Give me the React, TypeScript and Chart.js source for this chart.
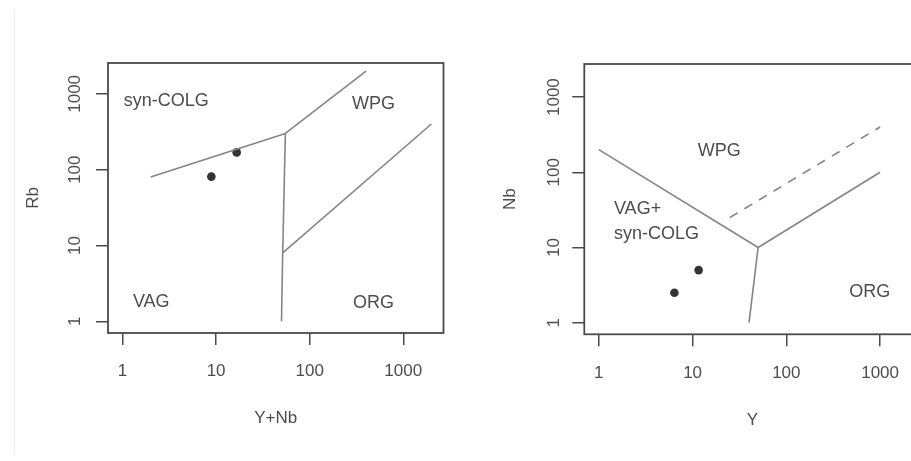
import React, { useEffect, useRef } from "react";
import { Chart, registerables } from "chart.js";

Chart.register(...registerables);

// ---------- data ----------
const tickValues = [1, 10, 100, 1000];

// samples
const sampleYplusNb = [8.9, 16.6];
const sampleRb = [81, 169];
const sampleY = [6.4, 11.6];
const sampleNb = [2.5, 5.0];

// Rb vs (Y+Nb) boundaries
const synColgVagX = [2, 55];
const synColgVagY = [80, 300];
const wpgSynColgX = [55, 400];
const wpgSynColgY = [300, 2000];
const vagOrgX = [55, 51.5, 50];
const vagOrgY = [300, 8, 1];
const wpgOrgX = [51.5, 2000];
const wpgOrgY = [8, 400];

// Nb vs Y boundaries
const vagWpgX = [1, 50];
const vagWpgY = [200, 10];
const wpgOrgNbX = [50, 1000];
const wpgOrgNbY = [10, 100];
const vagOrgNbX = [50, 40];
const vagOrgNbY = [10, 1];
const dashedX = [25, 1000];
const dashedY = [25, 400];

// field names and their anchors (data coordinates)
const leftFieldText = ["syn-COLG", "WPG", "VAG", "ORG"];
const leftFieldX = [2.93, 481, 2.03, 481];
const leftFieldY = [797, 728, 1.81, 1.76];
const rightFieldText = ["WPG", "VAG+", "syn-COLG", "ORG"];
const rightFieldX = [19.2, 1.45, 1.45, 777];
const rightFieldY = [191, 32, 15.1, 2.59];

// ---------- style ----------
const FONT = "'Liberation Sans', Arial, Helvetica, sans-serif";
const TEXT = "#4d4d4d";
const LINE = "#858585";
const FRAME = "#4a4a4a";
const POINT = "#333333";

type Seg = { x: number[]; y: number[]; dash?: number[] };
type Field = { text: string; x: number; y: number; align: CanvasTextAlign };

type PanelProps = {
  left: number;
  width: number;
  pad: { left: number; right: number; top: number; bottom: number };
  xLog: [number, number];
  yLog: [number, number];
  xTitle: string;
  yTitle: string;
  yTitlePad: number;
  yTickPad: number;
  segs: Seg[];
  px: number[];
  py: number[];
  fields: Field[];
};

const framePlugin = {
  id: "frameAndFields",
  afterDatasetsDraw(chart: any, _args: any, opts: any) {
    const { ctx, chartArea } = chart;
    const xs = chart.scales.x;
    const ys = chart.scales.y;
    ctx.save();
    ctx.strokeStyle = FRAME;
    ctx.lineWidth = 1.8;
    ctx.strokeRect(
      chartArea.left,
      chartArea.top,
      chartArea.right - chartArea.left,
      chartArea.bottom - chartArea.top
    );
    ctx.fillStyle = TEXT;
    ctx.font = `18px ${FONT}`;
    ctx.textBaseline = "middle";
    (opts.fields || []).forEach((f: Field) => {
      ctx.textAlign = f.align;
      ctx.fillText(f.text, xs.getPixelForValue(f.x), ys.getPixelForValue(f.y));
    });
    ctx.restore();
  },
};

function Panel(p: PanelProps) {
  const ref = useRef<HTMLCanvasElement | null>(null);
  useEffect(() => {
    if (!ref.current) return;
    const font = { family: FONT, size: 17 };
    const grid = {
      drawOnChartArea: false,
      drawTicks: true,
      tickLength: 12,
      color: FRAME,
      tickColor: FRAME,
      lineWidth: 1.5,
    };
    const setTicks = (scale: any) => {
      scale.ticks = tickValues.map((v) => ({ value: v }));
    };
    const datasets: any[] = p.segs.map((s) => ({
      data: s.x.map((x, i) => ({ x, y: s.y[i] })),
      showLine: true,
      borderColor: LINE,
      borderWidth: 1.6,
      borderDash: s.dash || [],
      pointRadius: 0,
      pointHoverRadius: 0,
      fill: false,
      tension: 0,
    }));
    datasets.push({
      data: p.px.map((x, i) => ({ x, y: p.py[i] })),
      showLine: false,
      pointRadius: 4.3,
      pointBackgroundColor: POINT,
      pointBorderColor: POINT,
      pointBorderWidth: 0,
    });
    const chart = new Chart(ref.current, {
      type: "scatter",
      data: { datasets },
      options: {
        animation: false,
        responsive: false,
        maintainAspectRatio: false,
        events: [],
        layout: { padding: p.pad },
        plugins: {
          legend: { display: false },
          tooltip: { enabled: false },
          frameAndFields: { fields: p.fields },
        } as any,
        scales: {
          x: {
            type: "logarithmic",
            min: Math.pow(10, p.xLog[0]),
            max: Math.pow(10, p.xLog[1]),
            afterBuildTicks: setTicks,
            afterFit: (s: any) => {
              s.height = 100;
            },
            grid,
            border: { display: false },
            ticks: {
              font,
              color: TEXT,
              padding: 16.5,
              minRotation: 0,
              maxRotation: 0,
              autoSkip: false,
              callback: (v: any) => String(v),
            },
            title: {
              display: true,
              text: p.xTitle,
              font,
              color: TEXT,
              padding: { top: 0, bottom: 4 },
            },
          },
          y: {
            type: "logarithmic",
            min: Math.pow(10, p.yLog[0]),
            max: Math.pow(10, p.yLog[1]),
            afterBuildTicks: setTicks,
            afterFit: (s: any) => {
              s.width = 100;
            },
            grid,
            border: { display: false },
            ticks: {
              font,
              color: TEXT,
              padding: p.yTickPad,
              minRotation: 90,
              maxRotation: 90,
              crossAlign: "center",
              autoSkip: false,
              callback: (v: any) => String(v),
            },
            title: {
              display: true,
              text: p.yTitle,
              font,
              color: TEXT,
              padding: { top: p.yTitlePad, bottom: 0 },
            },
          },
        },
      } as any,
      plugins: [framePlugin as any],
    });
    return () => chart.destroy();
  }, []);
  return (
    <canvas
      ref={ref}
      width={p.width}
      height={461}
      style={{ position: "absolute", left: p.left, top: 0, display: "block" }}
    />
  );
}

export default function App() {
  const leftSegs: Seg[] = [
    { x: synColgVagX, y: synColgVagY },
    { x: wpgSynColgX, y: wpgSynColgY },
    { x: vagOrgX, y: vagOrgY },
    { x: wpgOrgX, y: wpgOrgY },
  ];
  const rightSegs: Seg[] = [
    { x: vagWpgX, y: vagWpgY },
    { x: wpgOrgNbX, y: wpgOrgNbY },
    { x: vagOrgNbX, y: vagOrgNbY },
    { x: dashedX, y: dashedY, dash: [9, 8] },
  ];
  const leftFields: Field[] = leftFieldText.map((t, i) => ({
    text: t,
    x: leftFieldX[i],
    y: leftFieldY[i],
    align: "center" as CanvasTextAlign,
  }));
  const rightAlign: CanvasTextAlign[] = ["center", "left", "left", "center"];
  const rightFields: Field[] = rightFieldText.map((t, i) => ({
    text: t,
    x: rightFieldX[i],
    y: rightFieldY[i],
    align: rightAlign[i],
  }));
  return (
    <div
      style={{
        position: "absolute",
        left: 0,
        top: 0,
        width: 911,
        height: 461,
        overflow: "hidden",
        background: "#ffffff",
      }}
    >
      <div
        style={{
          position: "absolute",
          left: 14,
          top: 10,
          width: 1,
          height: 445,
          background: "#ededed",
        }}
      />
      <Panel
        left={0}
        width={460}
        pad={{ left: 8, right: 16.5, top: 63, bottom: 28 }}
        xLog={[-0.127, 3.43]}
        yLog={[-0.135, 3.407]}
        xTitle="Y+Nb"
        yTitle="Rb"
        yTitlePad={14.8}
        yTickPad={2}
        segs={leftSegs}
        px={sampleYplusNb}
        py={sampleRb}
        fields={leftFields}
      />
      <Panel
        left={455}
        width={500}
        pad={{ left: 29.3, right: 34.3, top: 64, bottom: 26.7 }}
        xLog={[-0.149, 3.433]}
        yLog={[-0.132, 3.44]}
        xTitle="Y"
        yTitle="Nb"
        yTitlePad={15.5}
        yTickPad={-1}
        segs={rightSegs}
        px={sampleY}
        py={sampleNb}
        fields={rightFields}
      />
    </div>
  );
}
